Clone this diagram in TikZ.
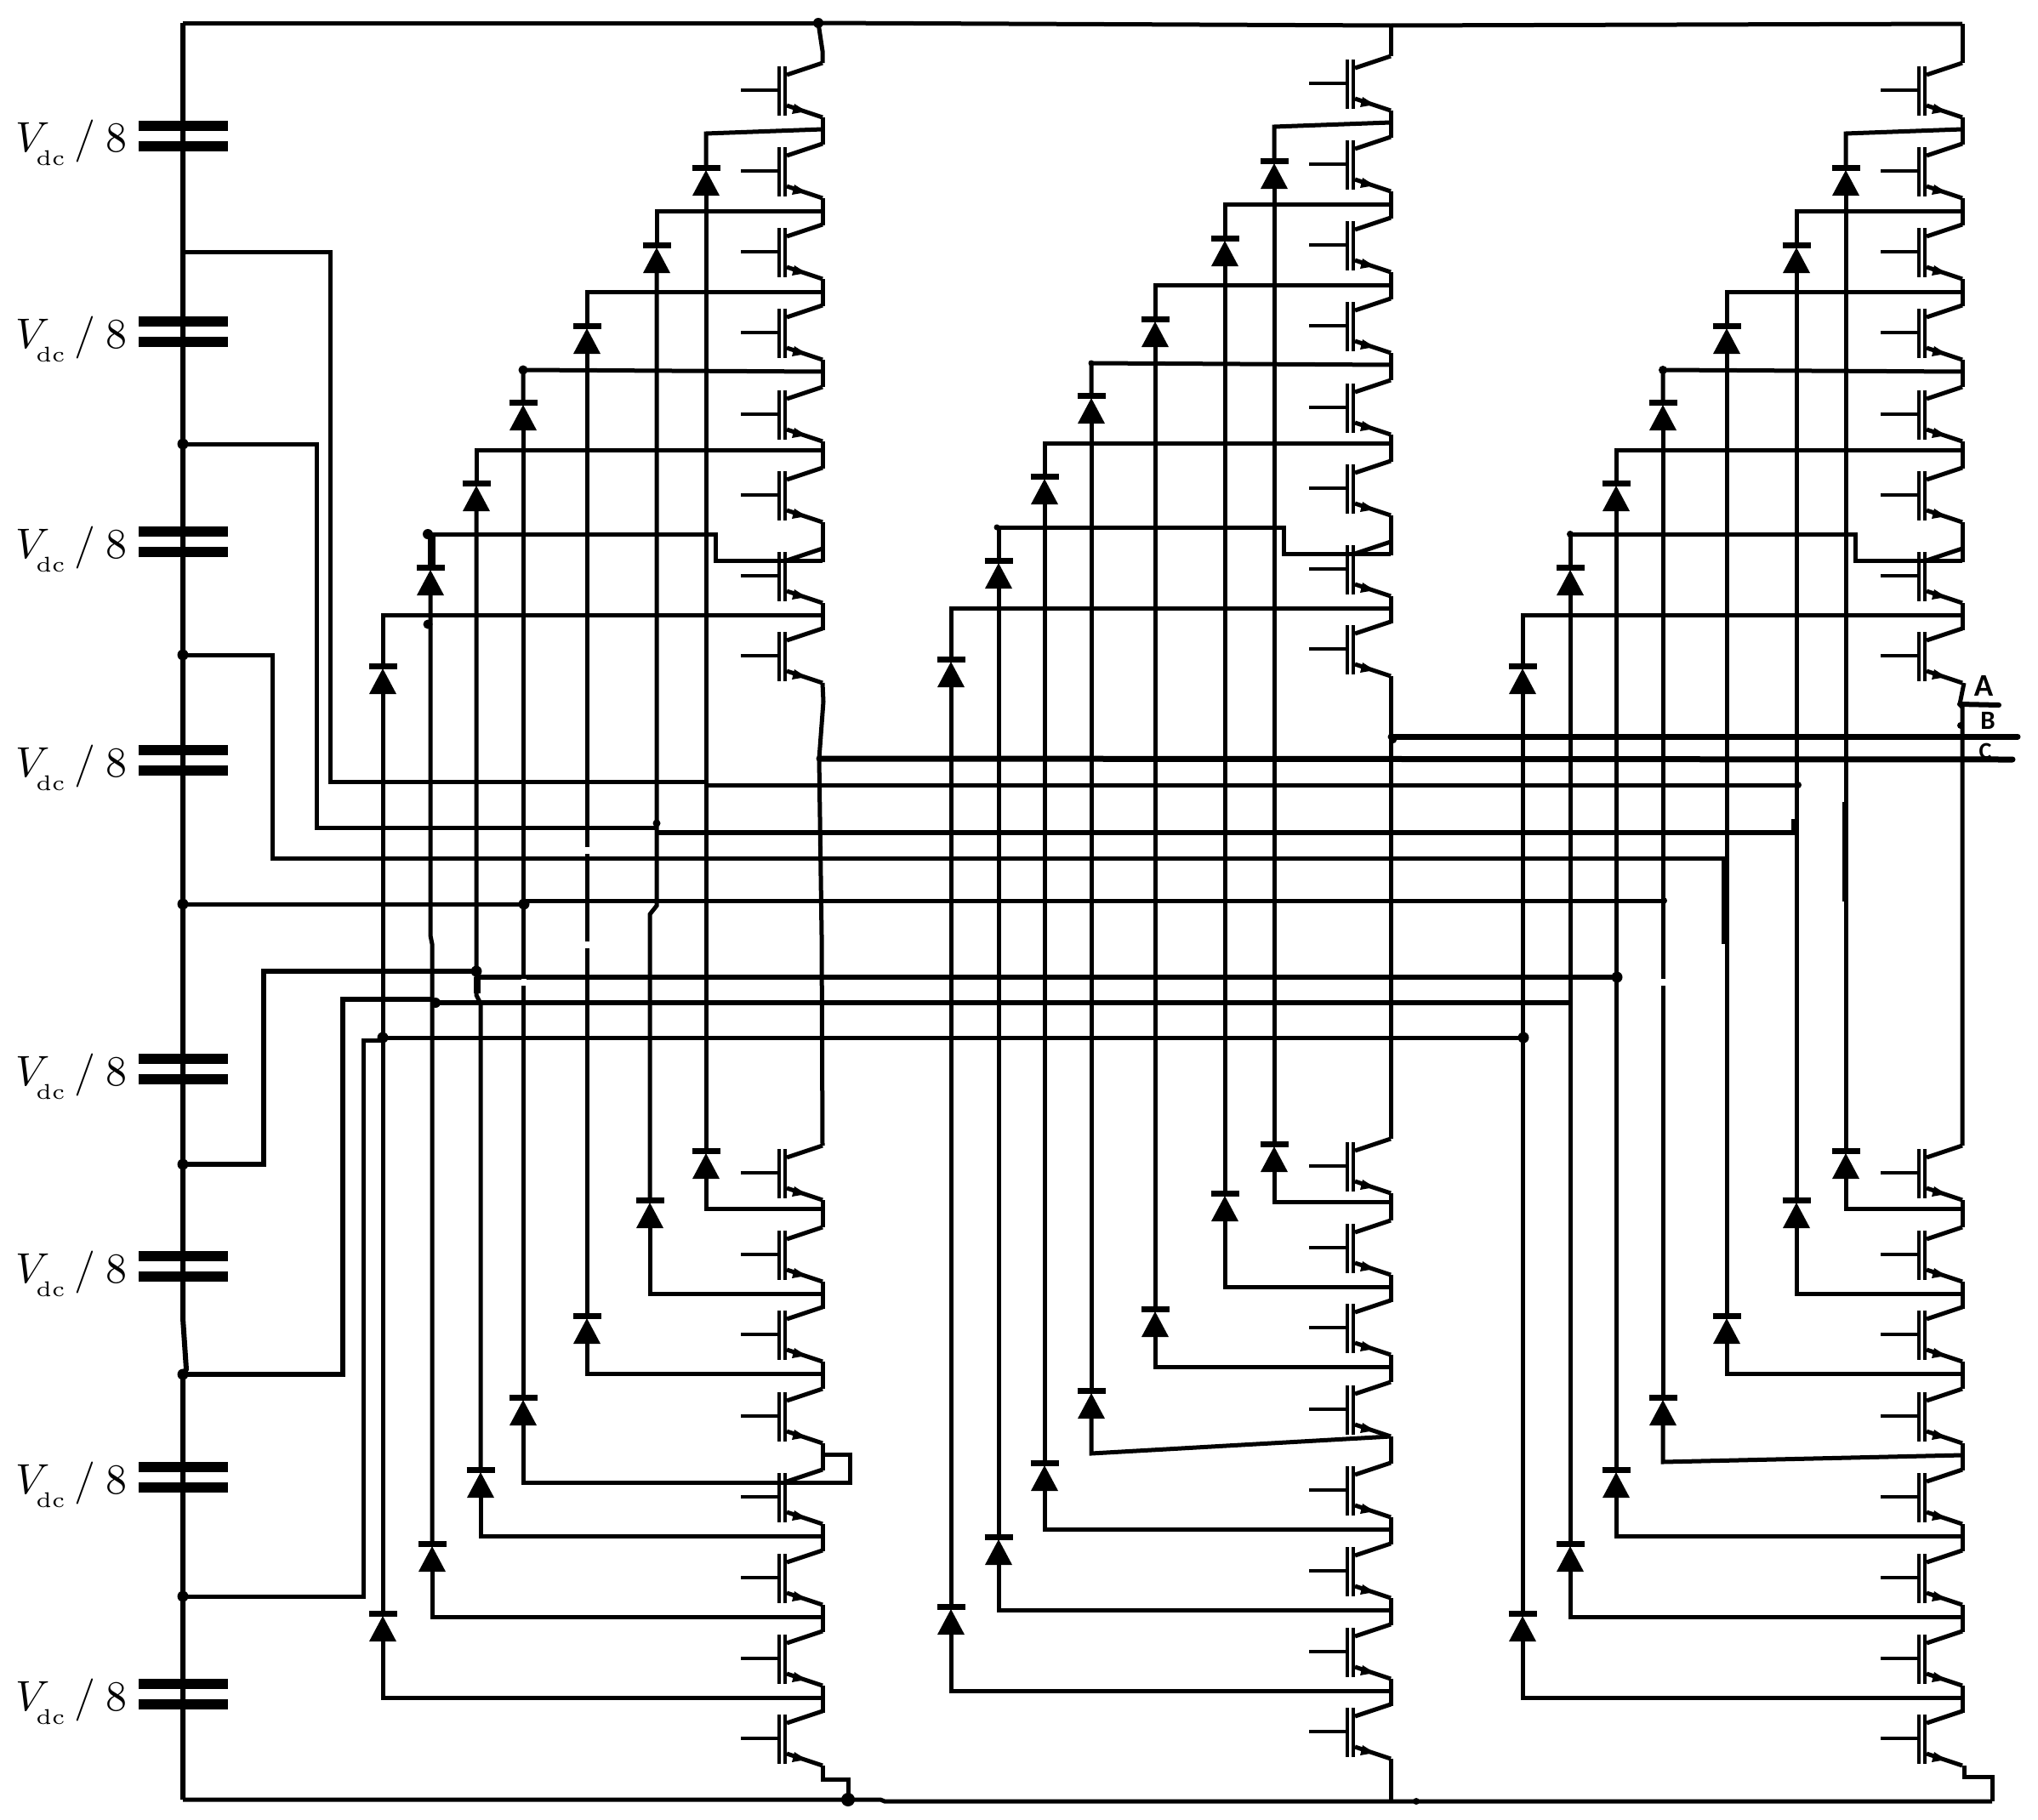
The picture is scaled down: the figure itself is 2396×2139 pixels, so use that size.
\documentclass[tikz,border=0pt]{standalone}
\usepackage{fontspec}
\newfontfamily\termfont{Carlito}
\tikzset{
  wire/.style={line width=5pt},
  gateline/.style={line width=4.5pt},
  heavywire/.style={line width=7pt,line cap=round},
  plate/.style={line width=12pt},
  junction/.style={circle,fill,inner sep=0pt,minimum size=#1},
  vlabel/.style={anchor=base west,scale=5,inner sep=0pt},
  termlabel/.style={inner sep=0pt,font=\termfont\bfseries\fontsize{#1}{#1}\selectfont}
}
\newcommand{\igbt}[1]{%
  \draw[gateline] (871,#1) -- (916,#1);
  \draw[gateline] (916,#1-28) -- (916,#1+30);
  \draw[gateline] (923,#1-28) -- (923,#1+30);
  \draw[wire] (925,#1-18) -- (967,#1-32);
  \draw[wire] (925,#1+18) -- (967,#1+32);
  \fill (934,#1+16) -- (948,#1+25) -- (931,#1+28) -- cycle;
}
\newcommand{\diode}[3]{%
  \coordinate (#1k) at (#2,#3);
  \coordinate (#1a) at (#2,#3+33);
  \fill (#2,#3+3) -- (#2+16,#3+33) -- (#2-16,#3+33) -- cycle;
  \draw[line width=7pt] (#2-16.5,#3) -- (#2+16.5,#3);
}
\newcommand{\vdctext}{$V\kern-3.4pt\lower3.2pt\hbox{$\scriptscriptstyle\mathrm{dc}$}\kern2.2pt/\kern2.4pt 8$}
\def\firstleg{a}
\begin{document}
\begin{tikzpicture}[x=1pt,y=-1pt]
\useasboundingbox (0,0) rectangle (2396,2139);

\coordinate (top) at (215,27);
\coordinate (bot) at (215,2116);
\coordinate (n2) at (215,296);
\coordinate (n3) at (215,522);
\coordinate (n4) at (215,770);
\coordinate (n5) at (215,1063);
\coordinate (n6) at (215,1369);
\coordinate (n7) at (215,1616);
\coordinate (n8) at (215,1877);

\draw[line width=6pt] (top) -- (215,1550) -- (219,1610) -- (n7) -- (bot);
\foreach \i/\y in {1/159.5,2/390,3/637,4/894,5/1257,6/1489,7/1737,8/1992}{
  \draw[plate] (163,\y-12) -- (268,\y-12);
  \draw[plate] (163,\y+12) -- (268,\y+12);
  \node[vlabel] (vdc\i) at (18,\y+19) {\vdctext};
}
\foreach \i in {3,4,5,6,7,8}
  \node[junction=13pt] at (n\i) {};

\foreach \c/\dx/\dy in {a/0/0,b/668/-8,c/1340/0}{
\begin{scope}[shift={(\dx,\dy)}]
  \foreach \g in {106,201,296,391,487,582,677,771,1379,1475,1569,1665,1760,1855,1950,2044}
    \igbt{\g}
  \foreach \g in {106,201,296,391,487,582,677,1379,1475,1569,1665,1760,1855,1950}
    \draw[wire] (967,\g+32) -- (967,\g+64);
  \draw[wire] (967,640) -- (967,661);
  \foreach \n/\xu/\xl/\bu/\bl/\yb in {1/830/830/197/1353/1100,2/772/764/288/1411/1065,3/690/690/383/1547/1100,4/615/615/473/1643/1100,5/560/565/568/1728/1170,6/506/508/667/1815/1100,7/450/450/783/1897/1100}{
    \ifx\c\firstleg\def\xlow{\xl}\else\def\xlow{\xu}\fi
    \diode{\c u\n}{\xu}{\bu}
    \diode{\c l\n}{\xlow}{\bl}
    \draw[wire] (\c u\n a) -- (\xu,\yb) -- (\xlow,\yb+10) -- (\c l\n k);
  }
  \foreach \n/\xu/\yl/\yr in {1/830/157/152,2/772/248/248,3/690/343/343,4/615/435/437,5/560/529/529,7/450/723/723}
    \draw[wire] (\c u\n k) -- (\xu,\yl) -- (967,\yr);
  \draw[wire] (\c u6k) -- (506,628) -- (841,628) -- (841,659) -- (967,659);
  \foreach \n/\yl in {1/1421,2/1521,3/1615,5/1806,6/1901,7/1996}
    \draw[wire] (\c l\n a) |- (967,\yl);
\end{scope}
}

\draw[wire] (al4a) |- (999,1743) -- (999,1710) -- (967,1710);
\draw[wire] (bl4a) -- (1283,1709) -- (1635,1689);
\draw[wire] (cl4a) -- (1955,1719) -- (2307,1711);

\coordinate (t1) at (962,27);
\coordinate (t2) at (1635,30);
\coordinate (t3) at (2307,28);
\draw[wire] (top) -- (t1);
\draw[wire] (t1) -- (t2) -- (t3);
\node[junction=12pt] at (t1) {};
\draw[wire] (t1) -- (967,60) -- (967,74);
\draw[wire] (t2) -- (1635,66);
\draw[wire] (t3) -- (2307,74);

\coordinate (ca) at (963,892);
\coordinate (cb) at (1635,866);
\coordinate (cc) at (2304,828);
\draw[wire] (967,803) -- (968,825) -- (ca) -- (966,1100) -- (967,1347);
\draw[wire] (1635,795) -- (cb) -- (1635,1339);
\draw[wire] (2309,803) -- (cc) -- (2307,832) -- (2307,1347);

\draw[heavywire] (ca) -- (2366,893);
\draw[heavywire] (cb) -- (2372,866);
\draw[line width=6pt,line cap=round] (cc) -- (2350,829);
\node[junction=8pt] at (1638,870) {};
\node[junction=8pt] at (2305,853) {};
\node[termlabel=37pt] (termA) at (2332,806) {A};
\node[termlabel=31pt] (termB) at (2337,847) {B};
\node[termlabel=28pt] (termC) at (2334,883) {C};

\coordinate (b1) at (997,2116);
\coordinate (b2) at (1635,2118);
\coordinate (b3) at (2342,2118);
\draw[wire] (bot) -- (b1) -- (1035,2116) -- (1040,2118) -- (b2) -- (b3);
\draw[wire] (967,2076) -- (967,2092) -- (997,2092) -- (b1);
\draw[wire] (1635,2068) -- (b2);
\draw[wire] (2309,2076) -- (2309,2089) -- (2342,2089) -- (b3);
\node[junction=16pt] at (b1) {};
\node[junction=8pt] at (1665,2118) {};

\draw[wire] (n2) -| (388,919) -- (830,919);
\draw[wire] (830,923) -- (2114,923);
\node[junction=8pt] at (2114,923) {};
\draw[wire] (n3) -| (372,973) -- (772,973);
\draw[line width=6pt] (772,979) -- (2109,979) -- (2109,963);
\node[junction=9pt] at (772,968) {};
\draw[wire] (n4) -| (320,1009) -- (2031,1009);
\draw[line width=9pt] (2028,1009) -- (2028,1110);
\draw[line width=7pt] (2169,943) -- (2169,1060);
\draw[wire] (n5) -- (616,1063);
\draw[wire] (616,1059) -- (1956,1059);
\node[junction=13pt] at (616,1063) {};
\node[junction=8pt] at (1956,1059) {};
\draw[line width=6pt] (n6) -| (310,1142) -- (560,1142);
\draw[line width=6pt] (560,1149) -- (1901,1149);
\draw[line width=8pt] (561,1149) -- (561,1168);
\node[junction=13pt] at (560,1142) {};
\node[junction=13pt] at (1901,1149) {};
\draw[line width=6pt] (n7) -| (403,1175) -- (509,1175);
\draw[line width=6pt] (509,1179) -- (1846,1179);
\node[junction=12pt] at (512,1179) {};
\draw[wire] (n8) -| (427,1223) -- (450,1223);
\draw[wire] (450,1220) -- (1791,1220);
\node[junction=13pt] at (450,1220) {};
\node[junction=13pt] at (1791,1220) {};

\draw[line width=9pt] (507,628) -- (507,667);
\node[junction=12pt] at (503,628) {};
\node[junction=11pt] at (503,734) {};
\node[junction=11pt] at (615,435) {};
\node[junction=7pt] at (1283,427) {};
\node[junction=7pt] at (1172,620) {};
\node[junction=10pt] at (1955,435) {};
\node[junction=8pt] at (1846,628) {};

\foreach \x/\y in {690/1111,616/1155,1956/1155,690/1000}
  \draw[white,line width=6pt] (\x,\y-4) -- (\x,\y+4);
\end{tikzpicture}
\end{document}
